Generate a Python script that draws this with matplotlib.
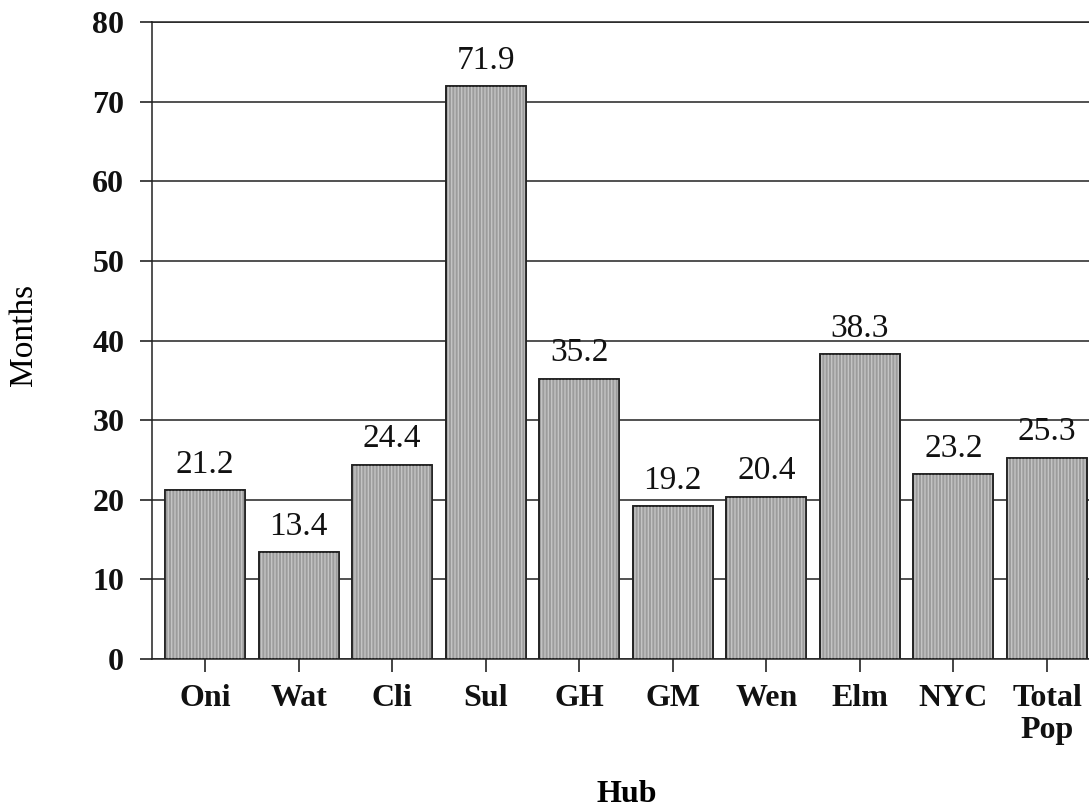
import matplotlib
matplotlib.use("Agg")
import matplotlib.pyplot as plt

categories = ["Oni", "Wat", "Cli", "Sul", "GH", "GM", "Wen", "Elm", "NYC", "Total\nPop"]
values = [21.2, 13.4, 24.4, 71.9, 35.2, 19.2, 20.4, 38.3, 23.2, 25.3]
yticks = [0, 10, 20, 30, 40, 50, 60, 70, 80]

plt.rcParams['font.family'] = ['Liberation Serif', 'DejaVu Serif']

fig = plt.figure(figsize=(10.89, 8.07), dpi=100)
ax = fig.add_axes([152/1089, (807-659)/807, 948/1089, 637/807])

x = list(range(len(categories)))
ax.set_axisbelow(True)
ax.yaxis.grid(True, color='#222222', linewidth=1.1)
ax.bar(x, values, width=0.855, color='#9c9c9c', edgecolor='#222222', linewidth=1.2, zorder=2)
ax.bar(x, values, width=0.855, color='none', edgecolor='#c4c4c4', hatch='|||||', linewidth=0, zorder=3)
ax.bar(x, values, width=0.855, color='none', edgecolor='#222222', linewidth=1.2, zorder=4)

for xi, v in zip(x, values):
    ax.text(xi, v + 1.3, f"{v:.1f}", ha='center', va='bottom', fontsize=24, color='#111111')

ax.set_xlim(-0.566, 9.566)
ax.set_ylim(0, 80)
ax.set_yticks(yticks)
ax.set_xticks(x)
ax.set_xticklabels(categories, fontsize=23, fontweight='bold', linespacing=1.15)
ax.set_yticklabels([str(t) for t in yticks], fontsize=23, fontweight='bold')
ax.tick_params(axis='y', direction='out', length=9, width=1.1, pad=11, colors='#111111')
ax.tick_params(axis='x', direction='out', length=9, width=1.1, pad=9, colors='#111111')
for s in ['left', 'bottom', 'top']:
    ax.spines[s].set_linewidth(1.1)
    ax.spines[s].set_color('#222222')
ax.spines['right'].set_visible(False)

fig.text(24/1089, 1 - 335/807, "Months", rotation=90, ha='center', va='center', fontsize=24)
fig.text(627/1089, 1 - 794/807, "Hub", ha='center', va='center', fontsize=23, fontweight='bold')

fig.savefig("out.png", dpi=100)
